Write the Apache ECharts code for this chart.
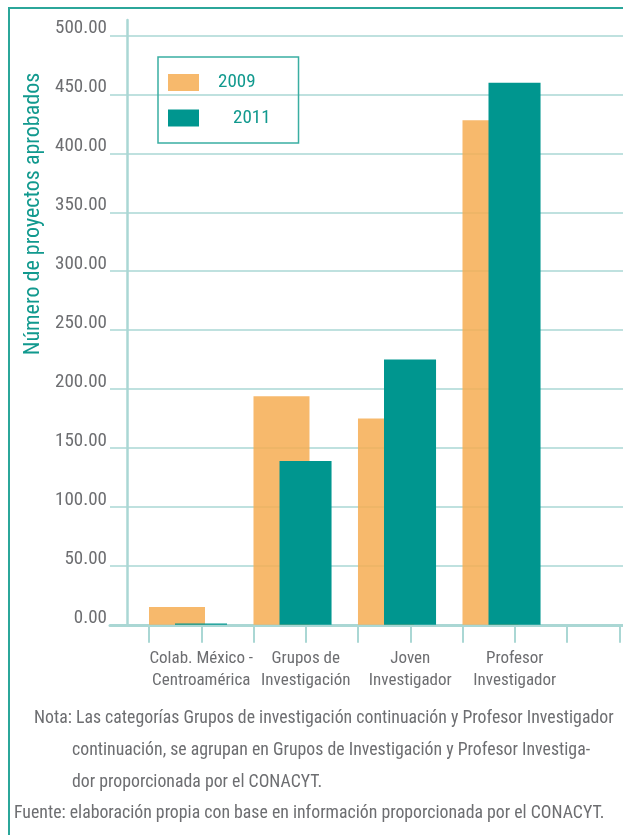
<!DOCTYPE html>
<html>
<head>
<meta charset="utf-8">
<script src="https://cdn.jsdelivr.net/npm/echarts@6/dist/echarts.min.js"></script>
<style>
  html, body { margin: 0; padding: 0; background: #ffffff; }
  #wrap { position: relative; width: 623px; height: 835px; overflow: hidden; }
  #frame { position: absolute; left: 8px; top: 7px; width: 700px; height: 900px;
           border-left: 2px solid #2ba69a; border-top: 2px solid #2ba69a; }
  #chart { position: absolute; left: 0; top: 0; width: 623px; height: 835px; }
</style>
</head>
<body>
<div id="wrap">
  <div id="frame"></div>
  <div id="chart"></div>
</div>
<script>
// Proyectos aprobados por categoría, 2009 y 2011
const categories = ['Colab. México -\nCentroamérica', 'Grupos de\nInvestigación', 'Joven\nInvestigador', 'Profesor\nInvestigador', ''];
const seriesNames = ['2009', '2011'];
const values2009 = [15, 194, 175, 428];
const values2011 = [1, 139, 225, 460];
const yMin = 0;
const yMax = 500;
const yStep = 50;
const yTitle = 'Número de proyectos aprobados';
const noteLines = [
  'Nota: Las categorías Grupos de investigación continuación y Profesor Investigador',
  'continuación, se agrupan en Grupos de Investigación y Profesor Investiga-',
  'dor proporcionada por el CONACYT.'
];
const sourceLine = 'Fuente: elaboración propia con base en información proporcionada por el CONACYT.';

const FONT = '"Roboto Condensed", "Liberation Sans", sans-serif';
const GRAY = '#6d6e71';
const TEAL_TEXT = '#11998e';
const TEAL = '#00968f';
const ORANGE = 'rgba(246,173,84,0.86)';
const GRID_LINE = '#aad7d4';

// layout (px)
const W = 623, H = 835;
const zeroY = 624.8;       // baseline of the value axis
const plotTop = 35.5;      // position of the top tick
const axisTop = 20;        // top end of the vertical axis line
const band = 104.5;        // width of one category band
const bandStart = 149;     // left edge of the first band
const bottom = H - zeroY;
// value at the top end of the vertical axis line, same scale as the grid
const axisLineMax = yMax * (zeroY - axisTop) / (zeroY - plotTop);

const chart = echarts.init(document.getElementById('chart'), null, { renderer: 'canvas' });

const option = {
  animation: false,
  textStyle: { fontFamily: FONT },
  grid: [
    // gridlines, value labels and baseline
    { left: 110, width: W - 110, top: plotTop, bottom: bottom, containLabel: false, outerBoundsMode: 'none' },
    // bars, category axis and vertical axis line
    { left: bandStart, width: band * categories.length, top: axisTop, bottom: bottom, containLabel: false, outerBoundsMode: 'none' }
  ],
  legend: {
    data: [
      { name: seriesNames[0], textStyle: { padding: [0, 0, 0, 14] } },
      { name: seriesNames[1], textStyle: { padding: [0, 0, 0, 29] } }
    ],
    orient: 'vertical',
    left: 158, top: 57,
    icon: 'rect',
    itemWidth: 31, itemHeight: 17, itemGap: 15.5,
    padding: [15.5, 28, 15, 10],
    borderColor: '#3aaea2', borderWidth: 1.5,
    textStyle: { color: TEAL_TEXT, fontSize: 19, lineHeight: 20, fontFamily: FONT }
  },
  xAxis: [
    {
      gridIndex: 0, type: 'value', min: 0, max: 1,
      axisLine: { show: true, lineStyle: { color: GRID_LINE, width: 3 } },
      axisTick: { show: false }, axisLabel: { show: false }, splitLine: { show: false }
    },
    {
      gridIndex: 1, type: 'category', data: categories, position: 'bottom',
      axisLine: { show: false },
      axisTick: { show: true, length: 18, interval: 0, lineStyle: { color: GRID_LINE, width: 2 } },
      axisLabel: { interval: 0, margin: 23, color: GRAY, fontSize: 17, lineHeight: 22, fontFamily: FONT },
      splitLine: { show: false }
    },
    {
      gridIndex: 1, type: 'category', data: categories, position: 'bottom',
      axisLine: { show: false },
      axisTick: { show: true, length: 18, interval: 0, alignWithLabel: true, lineStyle: { color: GRID_LINE, width: 2 } },
      axisLabel: { show: false },
      splitLine: { show: false }
    }
  ],
  yAxis: [
    {
      gridIndex: 0, type: 'value', min: yMin, max: yMax, interval: yStep,
      axisLine: { show: false }, axisTick: { show: false },
      axisLabel: {
        margin: 3, color: GRAY, fontSize: 19, fontFamily: FONT,
        verticalAlign: 'bottom', lineHeight: 20, padding: [0, 0, -3, 0],
        formatter: v => v.toFixed(2)
      },
      splitLine: { show: true, lineStyle: { color: GRID_LINE, width: 1.6 } }
    },
    {
      gridIndex: 1, type: 'value', min: yMin, max: axisLineMax, offset: bandStart - 127,
      axisLine: { show: true, lineStyle: { color: GRID_LINE, width: 2.5 } },
      axisTick: { show: false }, axisLabel: { show: false }, splitLine: { show: false }
    }
  ],
  series: [
    {
      name: seriesNames[0], type: 'bar', xAxisIndex: 1, yAxisIndex: 1,
      data: values2009, barWidth: '53.6%', barGap: '-53.55%',
      itemStyle: { color: ORANGE }
    },
    {
      name: seriesNames[1], type: 'bar', xAxisIndex: 1, yAxisIndex: 1,
      data: values2011, barWidth: '49.8%', barGap: '-53.55%',
      itemStyle: { color: TEAL }
    },
    {
      // empty slot that keeps the pair anchored to the left of each band
      name: 'spacer', type: 'bar', xAxisIndex: 1, yAxisIndex: 1,
      data: [], barWidth: '52%', barGap: '-53.55%', silent: true
    }
  ],
  graphic: [
    {
      type: 'text', x: 33, y: 214, rotation: Math.PI / 2,
      style: { text: yTitle, fill: TEAL_TEXT, font: '22px ' + FONT, align: 'center', verticalAlign: 'middle' }
    },
    {
      type: 'text', x: 34, y: 719,
      style: { text: noteLines[0], fill: GRAY, font: '17.8px ' + FONT, align: 'left', verticalAlign: 'middle' }
    },
    {
      type: 'text', x: 72, y: 751,
      style: { text: noteLines[1], fill: GRAY, font: '17.8px ' + FONT, align: 'left', verticalAlign: 'middle' }
    },
    {
      type: 'text', x: 72, y: 783,
      style: { text: noteLines[2], fill: GRAY, font: '17.8px ' + FONT, align: 'left', verticalAlign: 'middle' }
    },
    {
      type: 'text', x: 14, y: 814,
      style: { text: sourceLine, fill: GRAY, font: '17.8px ' + FONT, align: 'left', verticalAlign: 'middle' }
    }
  ]
};

chart.setOption(option);
</script>
</body>
</html>
